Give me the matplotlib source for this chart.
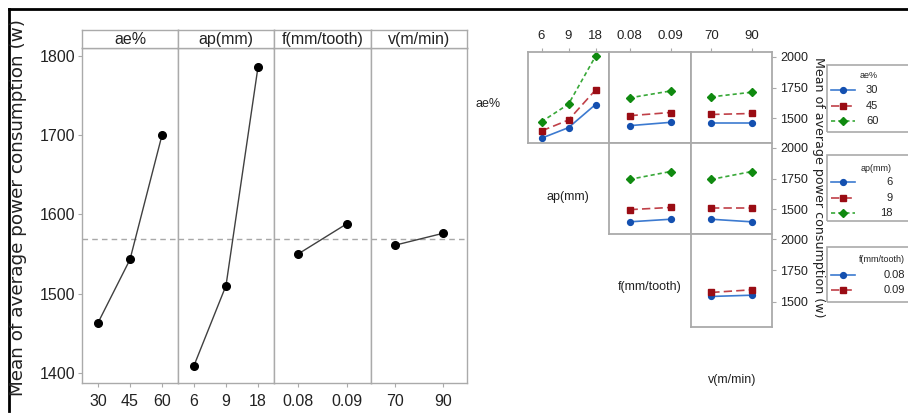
import matplotlib
matplotlib.use("Agg")
import matplotlib.pyplot as plt
from matplotlib.lines import Line2D
from matplotlib.patches import Rectangle

# ---------------- data ----------------
factor_names = ["ae%", "ap(mm)", "f(mm/tooth)", "v(m/min)"]
strip_names = ["ae%", "ap(mm)", "f(mm/tooth)", "v(m/min)"]
ae_levels = ["30", "45", "60"]
ap_levels = ["6", "9", "18"]
f_levels = ["0.08", "0.09"]
v_levels = ["70", "90"]

main_ae = [1463, 1543, 1700]
main_ap = [1409, 1510, 1786]
main_f = [1550, 1588]
main_v = [1561, 1576]
grand_mean = 1569

# interaction means: rows = trace factor level, cols = x factor level
ae_by_ap = [[1339, 1425, 1613], [1398, 1487, 1731], [1473, 1616, 2005]]
ae_by_f = [[1441, 1468], [1522, 1548], [1667, 1723]]
ae_by_v = [[1460, 1460], [1532, 1540], [1675, 1713]]
ap_by_f = [[1399, 1420], [1498, 1516], [1744, 1808]]
ap_by_v = [[1420, 1399], [1508, 1508], [1744, 1808]]
f_by_v = [[1543, 1553], [1575, 1596]]

left_yticks = [1400, 1500, 1600, 1700, 1800]
right_yticks = [1500, 1750, 2000]

# ---------------- style ----------------
W, H = 908, 415
NARROW = ["Liberation Sans", "DejaVu Sans"]
GREY = "#aaaaaa"
TXT = "#222222"
series_styles = [
    dict(color="#3c7ad0", mfc="#1450b0", mec="#1450b0", marker="o", ls="-", dashes=()),
    dict(color="#c04048", mfc="#9a0c14", mec="#9a0c14", marker="s", ls="--", dashes=(5, 2.5)),
    dict(color="#38a838", mfc="#108a10", mec="#108a10", marker="D", ls="--", dashes=(2.5, 1.8)),
]

def fx(x):
    return x / W

def fy(y):
    return 1 - y / H

def ax_at(x0, y0, x1, y1):
    return fig.add_axes([fx(x0), fy(y1), fx(x1) - fx(x0), fy(y0) - fy(y1)])

fig = plt.figure(figsize=(W / 100, H / 100), dpi=100)
fig.patch.set_facecolor("white")

# outer frame (top and left black lines)
fig.add_artist(Line2D([fx(9), fx(908)], [fy(9), fy(9)], color="black", lw=2))
fig.add_artist(Line2D([fx(9), fx(9)], [fy(9), fy(411)], color="black", lw=2))

# ---------------- main effects plot ----------------
xedges = [82, 178, 274, 371, 467]
top_plot, bot_plot, top_strip = 48, 383, 30
main_vals = [main_ae, main_ap, main_f, main_v]
main_lvls = [ae_levels, ap_levels, f_levels, v_levels]
for i in range(4):
    ax = ax_at(xedges[i], top_plot, xedges[i + 1], bot_plot)
    vals = main_vals[i]
    lv = main_lvls[i]
    xs = list(range(len(lv)))
    ax.plot(xs, vals, color="#404040", lw=1.0, marker="o", ms=5.5,
            mfc="black", mec="black", zorder=3)
    ax.axhline(grand_mean, color="#a8a8a8", lw=1.0, ls=(0, (4, 3)), zorder=1)
    ax.set_xlim(-0.5, len(lv) - 0.5)
    ax.set_ylim(1387, 1810)
    ax.set_xticks(xs)
    ax.set_xticklabels(lv, fontsize=11.5, family=NARROW, color=TXT)
    ax.tick_params(axis="x", length=3, color=GREY, pad=5)
    if i == 0:
        ax.set_yticks(left_yticks)
        ax.set_yticklabels([str(t) for t in left_yticks], fontsize=11.5,
                           family=NARROW, color=TXT)
        ax.tick_params(axis="y", length=3, color=GREY, pad=2)
    else:
        ax.set_yticks([])
    for s in ax.spines.values():
        s.set_color(GREY)
        s.set_linewidth(1.0)
    # strip
    sx = ax_at(xedges[i], top_strip, xedges[i + 1], top_plot)
    sx.set_xticks([]); sx.set_yticks([])
    for s in sx.spines.values():
        s.set_color(GREY)
        s.set_linewidth(1.0)
    sx.text(0.5, 0.45, strip_names[i], ha="center", va="center",
            fontsize=11.5, family=NARROW, color=TXT, transform=sx.transAxes)

fig.text(fx(18), fy(207), "Mean of average power consumption (w)", rotation=90,
         ha="center", va="center", fontsize=13.2, family="DejaVu Sans", color=TXT)

# ---------------- interaction plot matrix ----------------
cols = [528, 609, 691, 772]
rows = [52, 143, 234, 327]
x_lvls = [ap_levels, f_levels, v_levels]
panels = {
    (0, 0): ae_by_ap, (0, 1): ae_by_f, (0, 2): ae_by_v,
    (1, 1): ap_by_f, (1, 2): ap_by_v,
    (2, 2): f_by_v,
}
for (r, c), data in panels.items():
    ax = ax_at(cols[c], rows[r], cols[c + 1], rows[r + 1])
    lv = x_lvls[c]
    xs = list(range(len(lv)))
    for k, series in enumerate(data):
        st = series_styles[k]
        ln, = ax.plot(xs, series, color=st["color"], lw=1.2, ls=st["ls"],
                      marker=st["marker"], ms=4.2, mfc=st["mfc"], mec=st["mec"])
        if st["dashes"]:
            ln.set_dashes(st["dashes"])
    ax.set_xlim(-0.5, len(lv) - 0.5)
    ax.set_ylim(1300, 2040)
    ax.set_xticks(xs)
    if r == 0:
        ax.xaxis.tick_top()
        ax.set_xticklabels(lv, fontsize=9.5, family=NARROW, color=TXT)
        ax.tick_params(axis="x", length=3, color=GREY, pad=4)
    else:
        ax.set_xticks([])
    if c == 2:
        ax.yaxis.tick_right()
        ax.set_yticks(right_yticks)
        ax.set_yticklabels([str(t) for t in right_yticks], fontsize=9,
                           family=NARROW, color=TXT)
        ax.tick_params(axis="y", length=3, color=GREY, pad=3)
    else:
        ax.set_yticks([])
    for s in ax.spines.values():
        s.set_color(GREY)
        s.set_linewidth(1.3)

row_label_pos = [(488, 104), (568, 197), (650, 287), (732, 380)]
for name, (x, y) in zip(factor_names, row_label_pos):
    fig.text(fx(x), fy(y), name, ha="center", va="center", fontsize=9,
             family=NARROW, color=TXT)

fig.text(fx(818), fy(187), "Mean of average power consumption (w)", rotation=-90,
         ha="center", va="center", fontsize=9.1, family="DejaVu Sans", color=TXT)

# ---------------- legends ----------------
legends = [
    ("ae%", ae_levels, (65, 132), 869, 75, [90, 106, 121], 866, "left"),
    ("ap(mm)", ap_levels, (155, 221), 876, 168, [182, 198, 213], 893, "right"),
    ("f(mm/tooth)", f_levels, (247, 302), 882, 259, [275, 290], 884, "left"),
]
for title, labels, (y0, y1), tx, ty, ys, lx, ha in legends:
    fig.add_artist(Rectangle((fx(827), fy(y1)), fx(930) - fx(827), fy(y0) - fy(y1),
                             fill=False, edgecolor=GREY, lw=1.2))
    fig.text(fx(tx), fy(ty), title, ha="center", va="center", fontsize=6.5,
             family=NARROW, color=TXT)
    for k, (lab, yy) in enumerate(zip(labels, ys)):
        st = series_styles[k]
        ln = Line2D([fx(831), fx(855)], [fy(yy), fy(yy)], color=st["color"], lw=1.2,
                    ls=st["ls"])
        if st["dashes"]:
            ln.set_dashes(st["dashes"])
        fig.add_artist(ln)
        fig.add_artist(Line2D([fx(843)], [fy(yy)], marker=st["marker"], ms=4.2,
                              mfc=st["mfc"], mec=st["mec"], ls="none"))
        fig.text(fx(lx), fy(yy), lab, ha=ha, va="center", fontsize=8,
                 family=NARROW, color=TXT)

fig.savefig("out.png", dpi=100, facecolor="white")
